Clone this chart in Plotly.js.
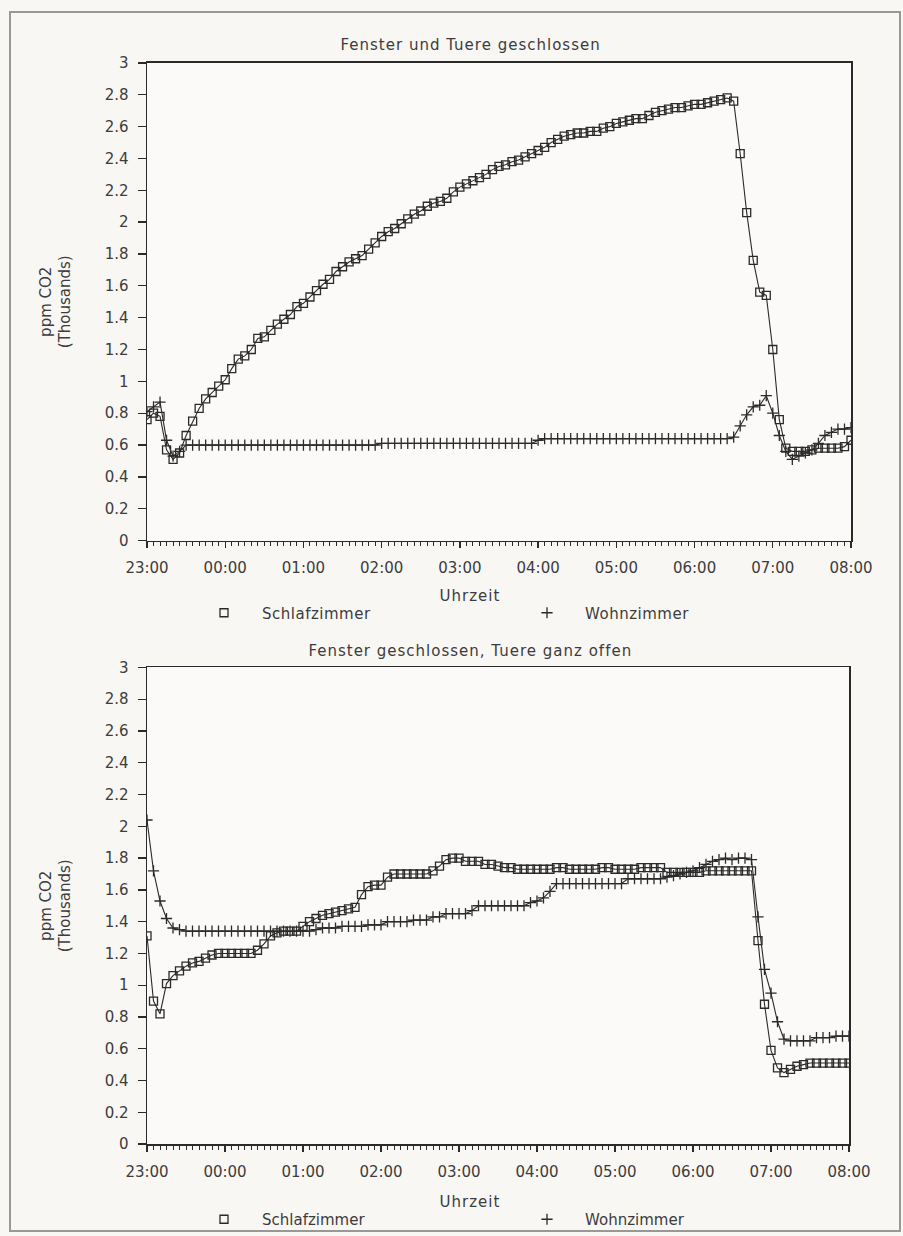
<!DOCTYPE html>
<html>
<head>
<meta charset="utf-8">
<script src="https://cdn.plot.ly/plotly-3.0.1.min.js"></script>
<style>
  html, body { margin: 0; padding: 0; background: #f9f7f4; }
  #chart { width: 903px; height: 1236px; }
  #chart .annotation-text { letter-spacing: 1px; }
  #chart .legendtext { letter-spacing: 0.5px; }
</style>
</head>
<body>
<div id="chart"></div>
<script>
// ---------- DATA ----------
const times = [
  "23:00","23:05","23:10","23:15","23:20","23:25","23:30","23:35","23:40","23:45","23:50","23:55",
  "00:00","00:05","00:10","00:15","00:20","00:25","00:30","00:35","00:40","00:45","00:50","00:55",
  "01:00","01:05","01:10","01:15","01:20","01:25","01:30","01:35","01:40","01:45","01:50","01:55",
  "02:00","02:05","02:10","02:15","02:20","02:25","02:30","02:35","02:40","02:45","02:50","02:55",
  "03:00","03:05","03:10","03:15","03:20","03:25","03:30","03:35","03:40","03:45","03:50","03:55",
  "04:00","04:05","04:10","04:15","04:20","04:25","04:30","04:35","04:40","04:45","04:50","04:55",
  "05:00","05:05","05:10","05:15","05:20","05:25","05:30","05:35","05:40","05:45","05:50","05:55",
  "06:00","06:05","06:10","06:15","06:20","06:25","06:30","06:35","06:40","06:45","06:50","06:55",
  "07:00","07:05","07:10","07:15","07:20","07:25","07:30","07:35","07:40","07:45","07:50","07:55",
  "08:00"
];
const hourTicks = ["23:00","00:00","01:00","02:00","03:00","04:00","05:00","06:00","07:00","08:00"];
const yTickVals = [0,0.2,0.4,0.6,0.8,1,1.2,1.4,1.6,1.8,2,2.2,2.4,2.6,2.8,3];
const yTickText = ["0","0.2","0.4","0.6","0.8","1","1.2","1.4","1.6","1.8","2","2.2","2.4","2.6","2.8","3"];
const seriesNames = ["Schlafzimmer", "Wohnzimmer"];
const topTitle = "Fenster und Tuere geschlossen";
const bottomTitle = "Fenster geschlossen, Tuere ganz offen";
const xTitle = "Uhrzeit";
const yTitle = "ppm CO2<br>(Thousands)";

// ppm CO2 (thousands), panel 1: windows and door closed
const topSchlafzimmer = [
  0.76,0.80,0.78,0.57,0.51,0.55,0.66,0.75,0.83,0.89,0.93,0.97,
  1.01,1.08,1.14,1.16,1.20,1.27,1.28,1.32,1.36,1.39,1.42,1.47,
  1.49,1.53,1.57,1.61,1.64,1.69,1.72,1.75,1.77,1.79,1.83,1.87,
  1.91,1.94,1.96,1.99,2.02,2.05,2.07,2.10,2.12,2.13,2.15,2.19,
  2.22,2.24,2.26,2.28,2.30,2.33,2.35,2.36,2.38,2.39,2.41,2.43,
  2.45,2.47,2.50,2.52,2.54,2.55,2.56,2.56,2.57,2.57,2.59,2.60,
  2.62,2.63,2.64,2.65,2.65,2.67,2.69,2.70,2.71,2.72,2.72,2.73,
  2.74,2.74,2.75,2.76,2.77,2.78,2.76,2.43,2.06,1.76,1.56,1.54,
  1.20,0.76,0.58,0.56,0.56,0.56,0.57,0.58,0.58,0.58,0.58,0.59,
  0.63
];
const topWohnzimmer = [
  0.81,0.84,0.87,0.63,0.53,0.56,0.60,0.60,0.60,0.60,0.60,0.60,
  0.60,0.60,0.60,0.60,0.60,0.60,0.60,0.60,0.60,0.60,0.60,0.60,
  0.60,0.60,0.60,0.60,0.60,0.60,0.60,0.60,0.60,0.60,0.60,0.60,
  0.61,0.61,0.61,0.61,0.61,0.61,0.61,0.61,0.61,0.61,0.61,0.61,
  0.61,0.61,0.61,0.61,0.61,0.61,0.61,0.61,0.61,0.61,0.61,0.61,
  0.63,0.64,0.64,0.64,0.64,0.64,0.64,0.64,0.64,0.64,0.64,0.64,
  0.64,0.64,0.64,0.64,0.64,0.64,0.64,0.64,0.64,0.64,0.64,0.64,
  0.64,0.64,0.64,0.64,0.64,0.64,0.65,0.72,0.79,0.84,0.85,0.91,
  0.80,0.66,0.56,0.51,0.53,0.55,0.57,0.61,0.66,0.68,0.70,0.70,
  0.71
];
// panel 2: window closed, door wide open
const bottomSchlafzimmer = [
  1.31,0.90,0.82,1.01,1.06,1.09,1.12,1.14,1.15,1.17,1.19,1.20,
  1.20,1.20,1.20,1.20,1.20,1.22,1.26,1.31,1.33,1.34,1.34,1.34,
  1.37,1.40,1.42,1.44,1.45,1.46,1.47,1.48,1.49,1.57,1.62,1.63,
  1.63,1.68,1.70,1.70,1.70,1.70,1.70,1.70,1.72,1.75,1.79,1.80,
  1.80,1.78,1.78,1.78,1.76,1.76,1.75,1.74,1.74,1.73,1.73,1.73,
  1.73,1.73,1.73,1.74,1.74,1.73,1.73,1.73,1.73,1.73,1.74,1.74,
  1.73,1.73,1.73,1.73,1.74,1.74,1.74,1.74,1.71,1.71,1.71,1.71,
  1.71,1.71,1.72,1.72,1.72,1.72,1.72,1.72,1.72,1.72,1.28,0.88,
  0.59,0.48,0.45,0.47,0.49,0.50,0.51,0.51,0.51,0.51,0.51,0.51,
  0.51
];
const bottomWohnzimmer = [
  2.04,1.72,1.53,1.42,1.36,1.35,1.34,1.34,1.34,1.34,1.34,1.34,
  1.34,1.34,1.34,1.34,1.34,1.34,1.34,1.34,1.34,1.34,1.34,1.34,
  1.34,1.34,1.35,1.36,1.36,1.36,1.37,1.37,1.37,1.37,1.38,1.38,
  1.38,1.40,1.40,1.40,1.40,1.41,1.41,1.41,1.43,1.43,1.45,1.45,
  1.45,1.45,1.47,1.50,1.50,1.50,1.50,1.50,1.50,1.50,1.50,1.52,
  1.53,1.55,1.59,1.64,1.64,1.64,1.64,1.64,1.64,1.64,1.64,1.64,
  1.64,1.64,1.67,1.67,1.67,1.67,1.67,1.67,1.68,1.69,1.70,1.71,
  1.72,1.74,1.76,1.78,1.79,1.80,1.79,1.80,1.80,1.79,1.43,1.10,
  0.95,0.77,0.66,0.65,0.65,0.65,0.65,0.67,0.67,0.67,0.68,0.68,
  0.68
];

// ---------- CHART ----------
function toDate(t) { return (t.startsWith("23") ? "2000-01-01 " : "2000-01-02 ") + t; }
const xs = times.map(toDate);
const hourVals = hourTicks.map(toDate);

const FONT = "DejaVu Sans, Verdana, sans-serif";
const INK = "#2a2a2a";
const TXT = "#3c3c3c";

function lineTrace(y, xa, ya) {
  return { x: xs, y: y, xaxis: xa, yaxis: ya, type: "scatter", mode: "lines",
           line: { color: INK, width: 1.1 }, showlegend: false, hoverinfo: "skip" };
}
function markerTrace(y, xa, ya, name, symbol, legend, size) {
  return { x: xs, y: y, xaxis: xa, yaxis: ya, type: "scatter", mode: "markers", name: name,
           legend: legend,
           marker: { symbol: symbol, size: size, color: INK, line: { color: INK, width: 1.3 } } };
}

const traces = [
  lineTrace(topSchlafzimmer, "x", "y"),
  lineTrace(topWohnzimmer, "x", "y"),
  markerTrace(topSchlafzimmer, "x", "y", seriesNames[0], "square-open", "legend", 8),
  markerTrace(topWohnzimmer, "x", "y", seriesNames[1], "cross-thin", "legend", 8),
  lineTrace(bottomSchlafzimmer, "x2", "y2"),
  lineTrace(bottomWohnzimmer, "x2", "y2"),
  markerTrace(bottomSchlafzimmer, "x2", "y2", seriesNames[0], "square-open", "legend2", 8),
  markerTrace(bottomWohnzimmer, "x2", "y2", seriesNames[1], "cross-thin", "legend2", 8)
];

const W = 903, H = 1236;
function px(x) { return x / W; }
function py(y) { return 1 - y / H; }

function xAxis(domain, anchor) {
  return {
    domain: domain, anchor: anchor, type: "date",
    range: [xs[0], xs[xs.length - 1]],
    tickmode: "array", tickvals: hourVals, ticktext: hourTicks,
    ticks: "outside", ticklen: 6, tickwidth: 1.3, tickcolor: INK,
    minor: { tickmode: "array", tickvals: xs, ticks: "outside", ticklen: 4, tickwidth: 1, tickcolor: INK, showgrid: false },
    showline: true, linecolor: INK, linewidth: 1.5, mirror: true,
    showgrid: false, zeroline: false, ticklabelstandoff: 7,
    tickfont: { family: FONT, size: 15, color: TXT }, fixedrange: true
  };
}
function yAxis(domain, anchor) {
  return {
    domain: domain, anchor: anchor, range: [0, 3],
    tickmode: "array", tickvals: yTickVals, ticktext: yTickText,
    ticks: "outside", ticklen: 8, tickwidth: 1.3, tickcolor: INK,
    showline: true, linecolor: INK, linewidth: 1.5, mirror: true,
    showgrid: false, zeroline: false, ticklabelstandoff: 6,
    tickfont: { family: FONT, size: 15, color: TXT },
    title: { text: yTitle, font: { family: FONT, size: 15, color: TXT }, standoff: 30 },
    fixedrange: true
  };
}
function legendBox(yPix) {
  return {
    orientation: "h", x: px(186), xanchor: "left", y: py(yPix), yanchor: "middle",
    itemwidth: 66, entrywidth: 242, entrywidthmode: "pixels", bgcolor: "rgba(0,0,0,0)",
    font: { family: FONT, size: 15, color: TXT }, itemclick: false, itemdoubleclick: false
  };
}

const layout = {
  width: W, height: H,
  margin: { l: 0, r: 0, t: 0, b: 0 },
  paper_bgcolor: "#f9f7f4", plot_bgcolor: "#fbfaf8",
  font: { family: FONT, color: TXT },
  xaxis: xAxis([px(147), px(851)], "y"),
  yaxis: yAxis([py(541), py(63)], "x"),
  xaxis2: xAxis([px(147), px(849)], "y2"),
  yaxis2: yAxis([py(1145), py(668)], "x2"),
  legend: legendBox(613),
  legend2: legendBox(1220),
  annotations: [
    { text: topTitle, xref: "paper", yref: "paper", x: px(470), y: py(45), showarrow: false,
      xanchor: "center", yanchor: "middle", font: { family: FONT, size: 15, color: TXT } },
    { text: xTitle, xref: "paper", yref: "paper", x: px(470), y: py(596), showarrow: false,
      xanchor: "center", yanchor: "middle", font: { family: FONT, size: 15, color: TXT } },
    { text: bottomTitle, xref: "paper", yref: "paper", x: px(470), y: py(652), showarrow: false,
      xanchor: "center", yanchor: "middle", font: { family: FONT, size: 15, color: TXT } },
    { text: xTitle, xref: "paper", yref: "paper", x: px(470), y: py(1203), showarrow: false,
      xanchor: "center", yanchor: "middle", font: { family: FONT, size: 15, color: TXT } }
  ],
  shapes: [
    { type: "rect", xref: "paper", yref: "paper", x0: px(10), y0: py(1232), x1: px(900), y1: py(12),
      line: { color: "#9a9896", width: 2 }, layer: "below" }
  ]
};

Plotly.newPlot("chart", traces, layout, { staticPlot: true, displayModeBar: false });
</script>
</body>
</html>
